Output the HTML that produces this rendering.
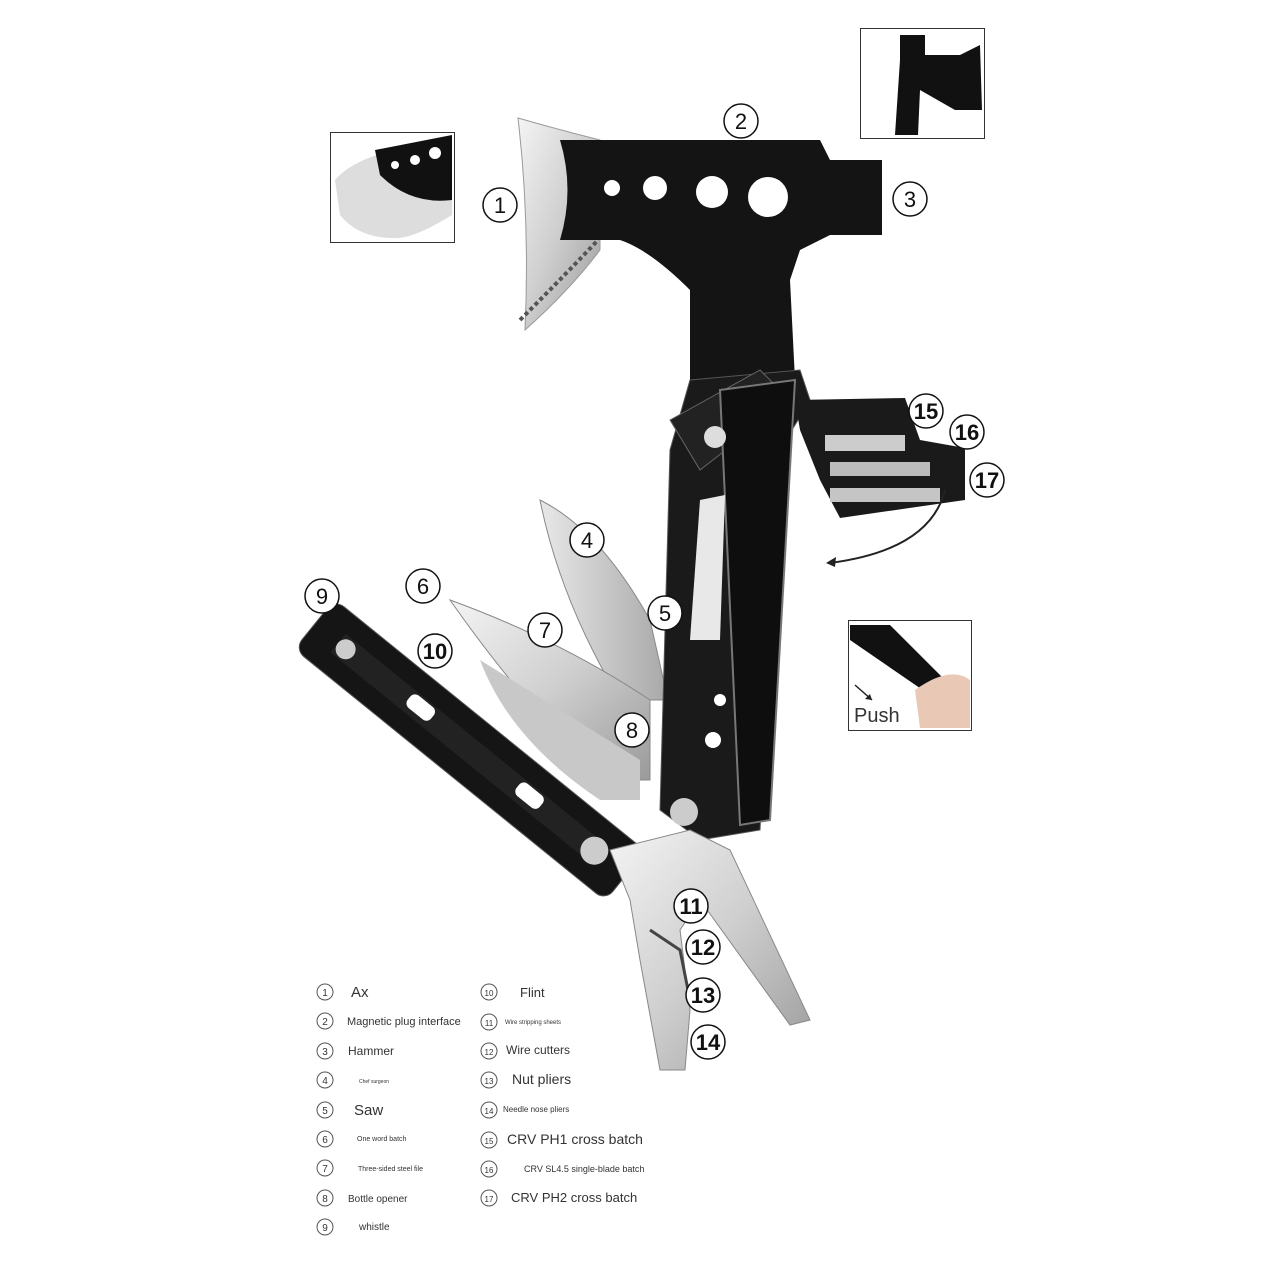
<!DOCTYPE html>
<html><head><meta charset="utf-8"><style>
html,body{margin:0;padding:0;background:#fff;}
svg{display:block;font-family:"Liberation Sans",sans-serif;}
</style></head><body>
<svg width="1280" height="1280" viewBox="0 0 1280 1280" xmlns="http://www.w3.org/2000/svg">
<defs>
<linearGradient id="steel" x1="0" y1="0" x2="1" y2="1">
<stop offset="0" stop-color="#f4f4f4"/><stop offset="0.5" stop-color="#cfcfcf"/><stop offset="1" stop-color="#9a9a9a"/></linearGradient>
<linearGradient id="steel2" x1="0" y1="0" x2="1" y2="0">
<stop offset="0" stop-color="#e8e8e8"/><stop offset="1" stop-color="#a8a8a8"/></linearGradient>
</defs>
<rect width="1280" height="1280" fill="#fff"/>

<!-- insets -->
<rect x="330.5" y="132.5" width="124" height="110" fill="#fff" stroke="#333"/>
<path d="M335 180 Q360 150 452 140 L452 215 Q420 235 400 238 Q360 240 340 215Z" fill="#ddd"/>
<path d="M375 150 L452 135 L452 200 Q410 205 380 175Z" fill="#111"/>
<circle cx="395" cy="165" r="4" fill="#fff"/><circle cx="415" cy="160" r="5" fill="#fff"/><circle cx="435" cy="153" r="6" fill="#fff"/>
<rect x="860.5" y="28.5" width="124" height="110" fill="#fff" stroke="#333"/>
<path d="M900 35 L925 35 L925 55 L960 55 L980 45 L982 110 L955 110 L920 90 L918 135 L895 135 L900 60Z" fill="#111"/>
<rect x="848.5" y="620.5" width="123" height="110" fill="#fff" stroke="#333"/>
<path d="M850 625 L890 625 L945 680 L930 695 L850 640Z" fill="#111"/>
<path d="M915 690 Q950 665 970 680 L970 728 L920 728 Z" fill="#e9c9b5"/>
<line x1="855" y1="685" x2="872" y2="700" stroke="#222" stroke-width="1.5"/>
<path d="M872 700 l-7 -1 l5 -5z" fill="#222"/>
<text x="854" y="722" font-size="20" fill="#333">Push</text>

<!-- axe blade -->
<path d="M518 118 Q560 130 600 140 L600 250 Q570 290 525 330 Q530 220 518 118Z" fill="url(#steel)" stroke="#999"/>
<path d="M520 320 Q570 270 598 240" stroke="#555" stroke-width="4" stroke-dasharray="4 3" fill="none"/>
<!-- axe head black -->
<path d="M560 140 L820 140 L830 160 L882 160 L882 235 L830 235 L800 250 L790 280 L795 380 L690 380 L690 290 Q650 250 620 240 L560 240 Q575 190 560 140Z" fill="#141414"/>
<circle cx="612" cy="188" r="8" fill="#fff"/><circle cx="655" cy="188" r="12" fill="#fff"/>
<circle cx="712" cy="192" r="16" fill="#fff"/><circle cx="768" cy="197" r="20" fill="#fff"/>

<!-- blades behind -->
<path d="M540 500 Q600 530 650 620 L668 700 L620 700 Q560 600 540 500Z" fill="url(#steel2)" stroke="#888"/>
<path d="M450 600 Q560 640 650 700 L650 780 L600 780 Q520 700 450 600Z" fill="url(#steel)" stroke="#888"/>
<path d="M480 660 L640 760 L640 800 L600 800 Q510 740 480 660Z" fill="#c8c8c8"/>

<!-- main handle -->
<path d="M690 380 L800 370 L810 400 L780 450 L760 830 L700 840 L660 810 L670 450 Z" fill="#1a1a1a" stroke="#555"/>
<path d="M670 420 L760 370 L790 400 L700 470Z" fill="#222" stroke="#666"/>
<path d="M720 390 L795 380 L770 820 L740 825Z" fill="#0e0e0e" stroke="#777" stroke-width="2"/>
<circle cx="715" cy="437" r="11" fill="#ddd"/><circle cx="684" cy="812" r="14" fill="#ccc"/>
<path d="M700 500 L725 495 L720 640 L690 640Z" fill="#fff" opacity="0.9"/>
<circle cx="713" cy="740" r="8" fill="#fff"/><circle cx="720" cy="700" r="6" fill="#fff"/>

<!-- bit holder -->
<path d="M795 400 L905 398 L920 440 L965 448 L965 500 L840 518 L820 480 L800 430Z" fill="#1a1a1a"/>
<rect x="825" y="435" width="80" height="16" fill="#ccc"/><rect x="830" y="462" width="100" height="14" fill="#bbb"/><rect x="830" y="488" width="110" height="14" fill="#c5c5c5"/>
<path d="M945 490 Q930 550 830 563" stroke="#222" stroke-width="2" fill="none"/>
<path d="M826 563 l10 -6 l-1 10z" fill="#222"/>

<!-- left handle -->
<g transform="rotate(39 470 750)">
<rect x="270" y="718" width="400" height="64" rx="12" fill="#151515" stroke="#555"/>
<rect x="300" y="738" width="330" height="24" fill="#222"/>
<circle cx="310" cy="750" r="10" fill="#ccc"/><circle cx="630" cy="750" r="14" fill="#ccc"/>
<rect x="390" y="740" width="30" height="16" rx="6" fill="#fff"/><rect x="530" y="740" width="30" height="16" rx="6" fill="#fff"/>
</g>

<!-- pliers -->
<path d="M610 850 L690 830 L730 850 L810 1020 L790 1025 L700 900 L680 930 L690 1010 L685 1070 L660 1070 L640 960 L630 900Z" fill="url(#steel)" stroke="#888"/>
<path d="M650 930 L680 950 L690 1000" stroke="#444" stroke-width="3" fill="none"/>

<!-- callouts -->
<g font-size="22" text-anchor="middle" fill="#111" stroke="none">
<g fill="#fff" stroke="#111" stroke-width="1.5">
<circle cx="500" cy="205" r="17"/><circle cx="741" cy="121" r="17"/><circle cx="910" cy="199" r="17"/>
<circle cx="587" cy="540" r="17"/><circle cx="665" cy="613" r="17"/><circle cx="423" cy="586" r="17"/>
<circle cx="545" cy="630" r="17"/><circle cx="632" cy="730" r="17"/><circle cx="322" cy="596" r="17"/>
<circle cx="435" cy="651" r="17"/><circle cx="691" cy="906" r="17"/><circle cx="703" cy="947" r="17"/>
<circle cx="703" cy="995" r="17"/><circle cx="708" cy="1042" r="17"/><circle cx="926" cy="411" r="17"/>
<circle cx="967" cy="432" r="17"/><circle cx="987" cy="480" r="17"/>
</g>
<text x="500" y="213">1</text><text x="741" y="129">2</text><text x="910" y="207">3</text>
<text x="587" y="548">4</text><text x="665" y="621">5</text><text x="423" y="594">6</text>
<text x="545" y="638">7</text><text x="632" y="738">8</text><text x="322" y="604">9</text>
<text x="435" y="659" font-weight="bold">10</text><text x="691" y="914" font-weight="bold">11</text><text x="703" y="955" font-weight="bold">12</text>
<text x="703" y="1003" font-weight="bold">13</text><text x="708" y="1050" font-weight="bold">14</text><text x="926" y="419" font-weight="bold">15</text>
<text x="967" y="440" font-weight="bold">16</text><text x="987" y="488" font-weight="bold">17</text>
</g>

<!-- legend -->
<g fill="none" stroke="#555" stroke-width="1">
<circle cx="325" cy="992" r="8"/><circle cx="325" cy="1021" r="8"/><circle cx="325" cy="1051" r="8"/><circle cx="325" cy="1080" r="8"/><circle cx="325" cy="1110" r="8"/><circle cx="325" cy="1139" r="8"/><circle cx="325" cy="1168" r="8"/><circle cx="325" cy="1198" r="8"/><circle cx="325" cy="1227" r="8"/>
<circle cx="489" cy="992" r="8"/><circle cx="489" cy="1022" r="8"/><circle cx="489" cy="1051" r="8"/><circle cx="489" cy="1080" r="8"/><circle cx="489" cy="1110" r="8"/><circle cx="489" cy="1140" r="8"/><circle cx="489" cy="1169" r="8"/><circle cx="489" cy="1198" r="8"/>
</g>
<g font-size="10" text-anchor="middle" fill="#333">
<text x="325" y="996">1</text><text x="325" y="1025">2</text><text x="325" y="1055">3</text><text x="325" y="1084">4</text><text x="325" y="1114">5</text><text x="325" y="1143">6</text><text x="325" y="1172">7</text><text x="325" y="1202">8</text><text x="325" y="1231">9</text>
<text x="489" y="996" font-size="8">10</text><text x="489" y="1026" font-size="8">11</text><text x="489" y="1055" font-size="8">12</text><text x="489" y="1084" font-size="8">13</text><text x="489" y="1114" font-size="8">14</text><text x="489" y="1144" font-size="8">15</text><text x="489" y="1173" font-size="8">16</text><text x="489" y="1202" font-size="8">17</text>
</g>
<g fill="#333">
<text x="351" y="997" font-size="15">Ax</text>
<text x="347" y="1025" font-size="11">Magnetic plug interface</text>
<text x="348" y="1055" font-size="12">Hammer</text>
<text x="359" y="1083" font-size="5">Chef surgeon</text>
<text x="354" y="1115" font-size="15">Saw</text>
<text x="357" y="1141" font-size="7">One word batch</text>
<text x="358" y="1171" font-size="7">Three-sided steel file</text>
<text x="348" y="1202" font-size="10">Bottle opener</text>
<text x="359" y="1230" font-size="10">whistle</text>
<text x="520" y="997" font-size="13">Flint</text>
<text x="505" y="1024" font-size="6">Wire stripping sheets</text>
<text x="506" y="1054" font-size="12">Wire cutters</text>
<text x="512" y="1084" font-size="14">Nut pliers</text>
<text x="503" y="1112" font-size="8">Needle nose pliers</text>
<text x="507" y="1144" font-size="14">CRV PH1 cross batch</text>
<text x="524" y="1172" font-size="9">CRV SL4.5 single-blade batch</text>
<text x="511" y="1202" font-size="13">CRV PH2 cross batch</text>
</g>
</svg>
</body></html>
